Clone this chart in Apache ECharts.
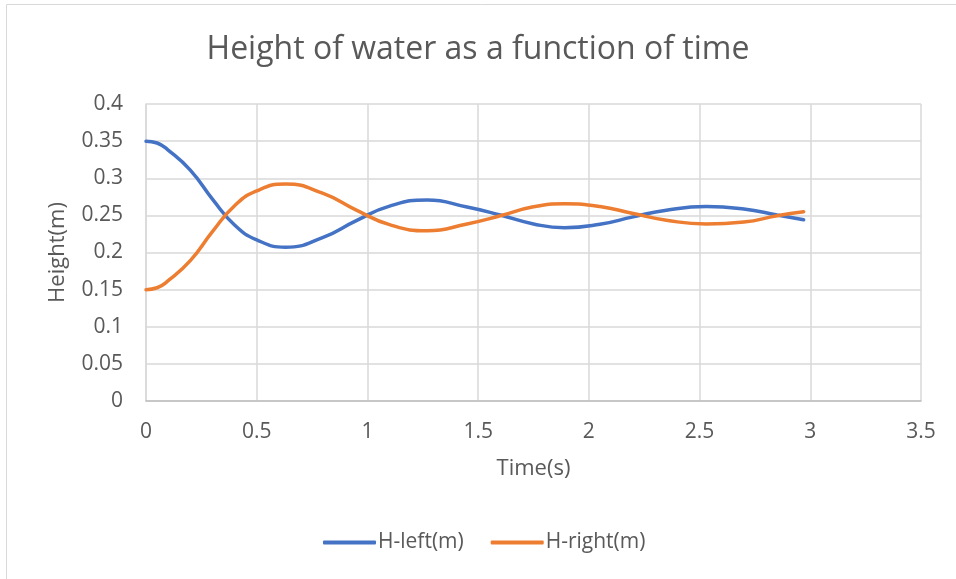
<!DOCTYPE html>
<html>
<head>
<meta charset="utf-8">
<script src="https://cdn.jsdelivr.net/npm/echarts@6/dist/echarts.min.js"></script>
<style>
html,body{margin:0;padding:0;background:#fff;}
#chart{width:956px;height:579px;}
</style>
</head>
<body>
<div id="chart"></div>
<script>
var titleText = "Height of water as a function of time";
var xAxisName = "Time(s)";
var yAxisName = "Height(m)";
var seriesNames = ["H-left(m)", "H-right(m)"];
var timeValues = [0, 0.05, 0.1, 0.2, 0.3, 0.4, 0.5, 0.63, 0.8, 0.95, 1.1, 1.27, 1.45, 1.6, 1.75, 1.89, 2.05, 2.2, 2.35, 2.53, 2.7, 2.85, 2.97];
var hLeft  = [0.350, 0.3475, 0.338, 0.311, 0.272, 0.237, 0.217, 0.2072, 0.2205, 0.243, 0.2625, 0.2707, 0.2612, 0.2505, 0.2385, 0.2334, 0.238, 0.248, 0.257, 0.2618, 0.2585, 0.2505, 0.244];
var hRight = [0.150, 0.1525, 0.162, 0.189, 0.228, 0.263, 0.283, 0.2922, 0.2795, 0.257, 0.2375, 0.2293, 0.2385, 0.2495, 0.2615, 0.2655, 0.262, 0.2525, 0.2435, 0.2384, 0.241, 0.2495, 0.2548];
var xTicks = [0, 0.5, 1, 1.5, 2, 2.5, 3, 3.5];
var yTicks = [0, 0.05, 0.1, 0.15, 0.2, 0.25, 0.3, 0.35, 0.4];

function pairs(xs, ys){ return xs.map(function(x,i){ return [x, ys[i]]; }); }
function tickText(list){ return function(v){ for (var i=0;i<list.length;i++){ if (Math.abs(list[i]-v)<1e-9) return String(list[i]); } return String(v); }; }

var FONT = "Open Sans";
var GREY = '#595959';
var chart = echarts.init(document.getElementById('chart'), null, {renderer:'canvas'});
chart.setOption({
  backgroundColor: '#ffffff',
  animation: false,
  textStyle: { fontFamily: FONT },
  graphic: [{
    type: 'rect', shape: { x: 6.5, y: 4.5, width: 1000, height: 1000 },
    style: { fill: 'none', stroke: '#d9d9d9', lineWidth: 1 }, silent: true, z: -10
  }],
  title: {
    text: titleText, left: 'center', top: 29,
    textStyle: { fontFamily: FONT, fontSize: 32, fontWeight: 'normal', color: GREY }
  },
  grid: { left: 146, right: 35, top: 104, bottom: 178, containLabel: false },
  legend: {
    top: 527, left: 318, itemWidth: 53, itemHeight: 4, itemGap: 27, icon: 'roundRect',
    textStyle: { fontFamily: FONT, fontSize: 21, color: GREY, padding: [0,0,0,-3] },
    data: seriesNames
  },
  xAxis: {
    type: 'value', min: 0, max: 3.5, interval: 0.5,
    name: xAxisName, nameLocation: 'middle', nameGap: 57,
    nameTextStyle: { fontFamily: FONT, fontSize: 22, color: GREY },
    axisLine: { show: true, lineStyle: { color: '#bfbfbf', width: 1.5 } },
    axisTick: { show: false },
    axisLabel: { margin: 21, fontSize: 21, color: GREY, fontFamily: FONT, formatter: tickText(xTicks) },
    splitLine: { show: true, lineStyle: { color: '#d9d9d9', width: 1.5 } }
  },
  yAxis: {
    type: 'value', min: 0, max: 0.4, interval: 0.05,
    name: yAxisName, nameLocation: 'middle', nameGap: 77, nameRotate: 90,
    nameTextStyle: { fontFamily: FONT, fontSize: 22, color: GREY },
    axisLine: { show: true, lineStyle: { color: '#d9d9d9', width: 1.5 } },
    axisTick: { show: false },
    axisLabel: { margin: 23, fontSize: 21, color: GREY, fontFamily: FONT, formatter: tickText(yTicks) },
    splitLine: { show: true, lineStyle: { color: '#d9d9d9', width: 1.5 } }
  },
  series: [
    { name: seriesNames[0], type: 'line', smooth: 0.5, showSymbol: false, symbol: 'none',
      data: pairs(timeValues, hLeft), lineStyle: { color: '#4472C4', width: 3.5, cap: 'round' }, itemStyle: { color: '#4472C4' } },
    { name: seriesNames[1], type: 'line', smooth: 0.5, showSymbol: false, symbol: 'none',
      data: pairs(timeValues, hRight), lineStyle: { color: '#ED7D31', width: 3.5, cap: 'round' }, itemStyle: { color: '#ED7D31' } }
  ]
});
</script>
</body>
</html>
